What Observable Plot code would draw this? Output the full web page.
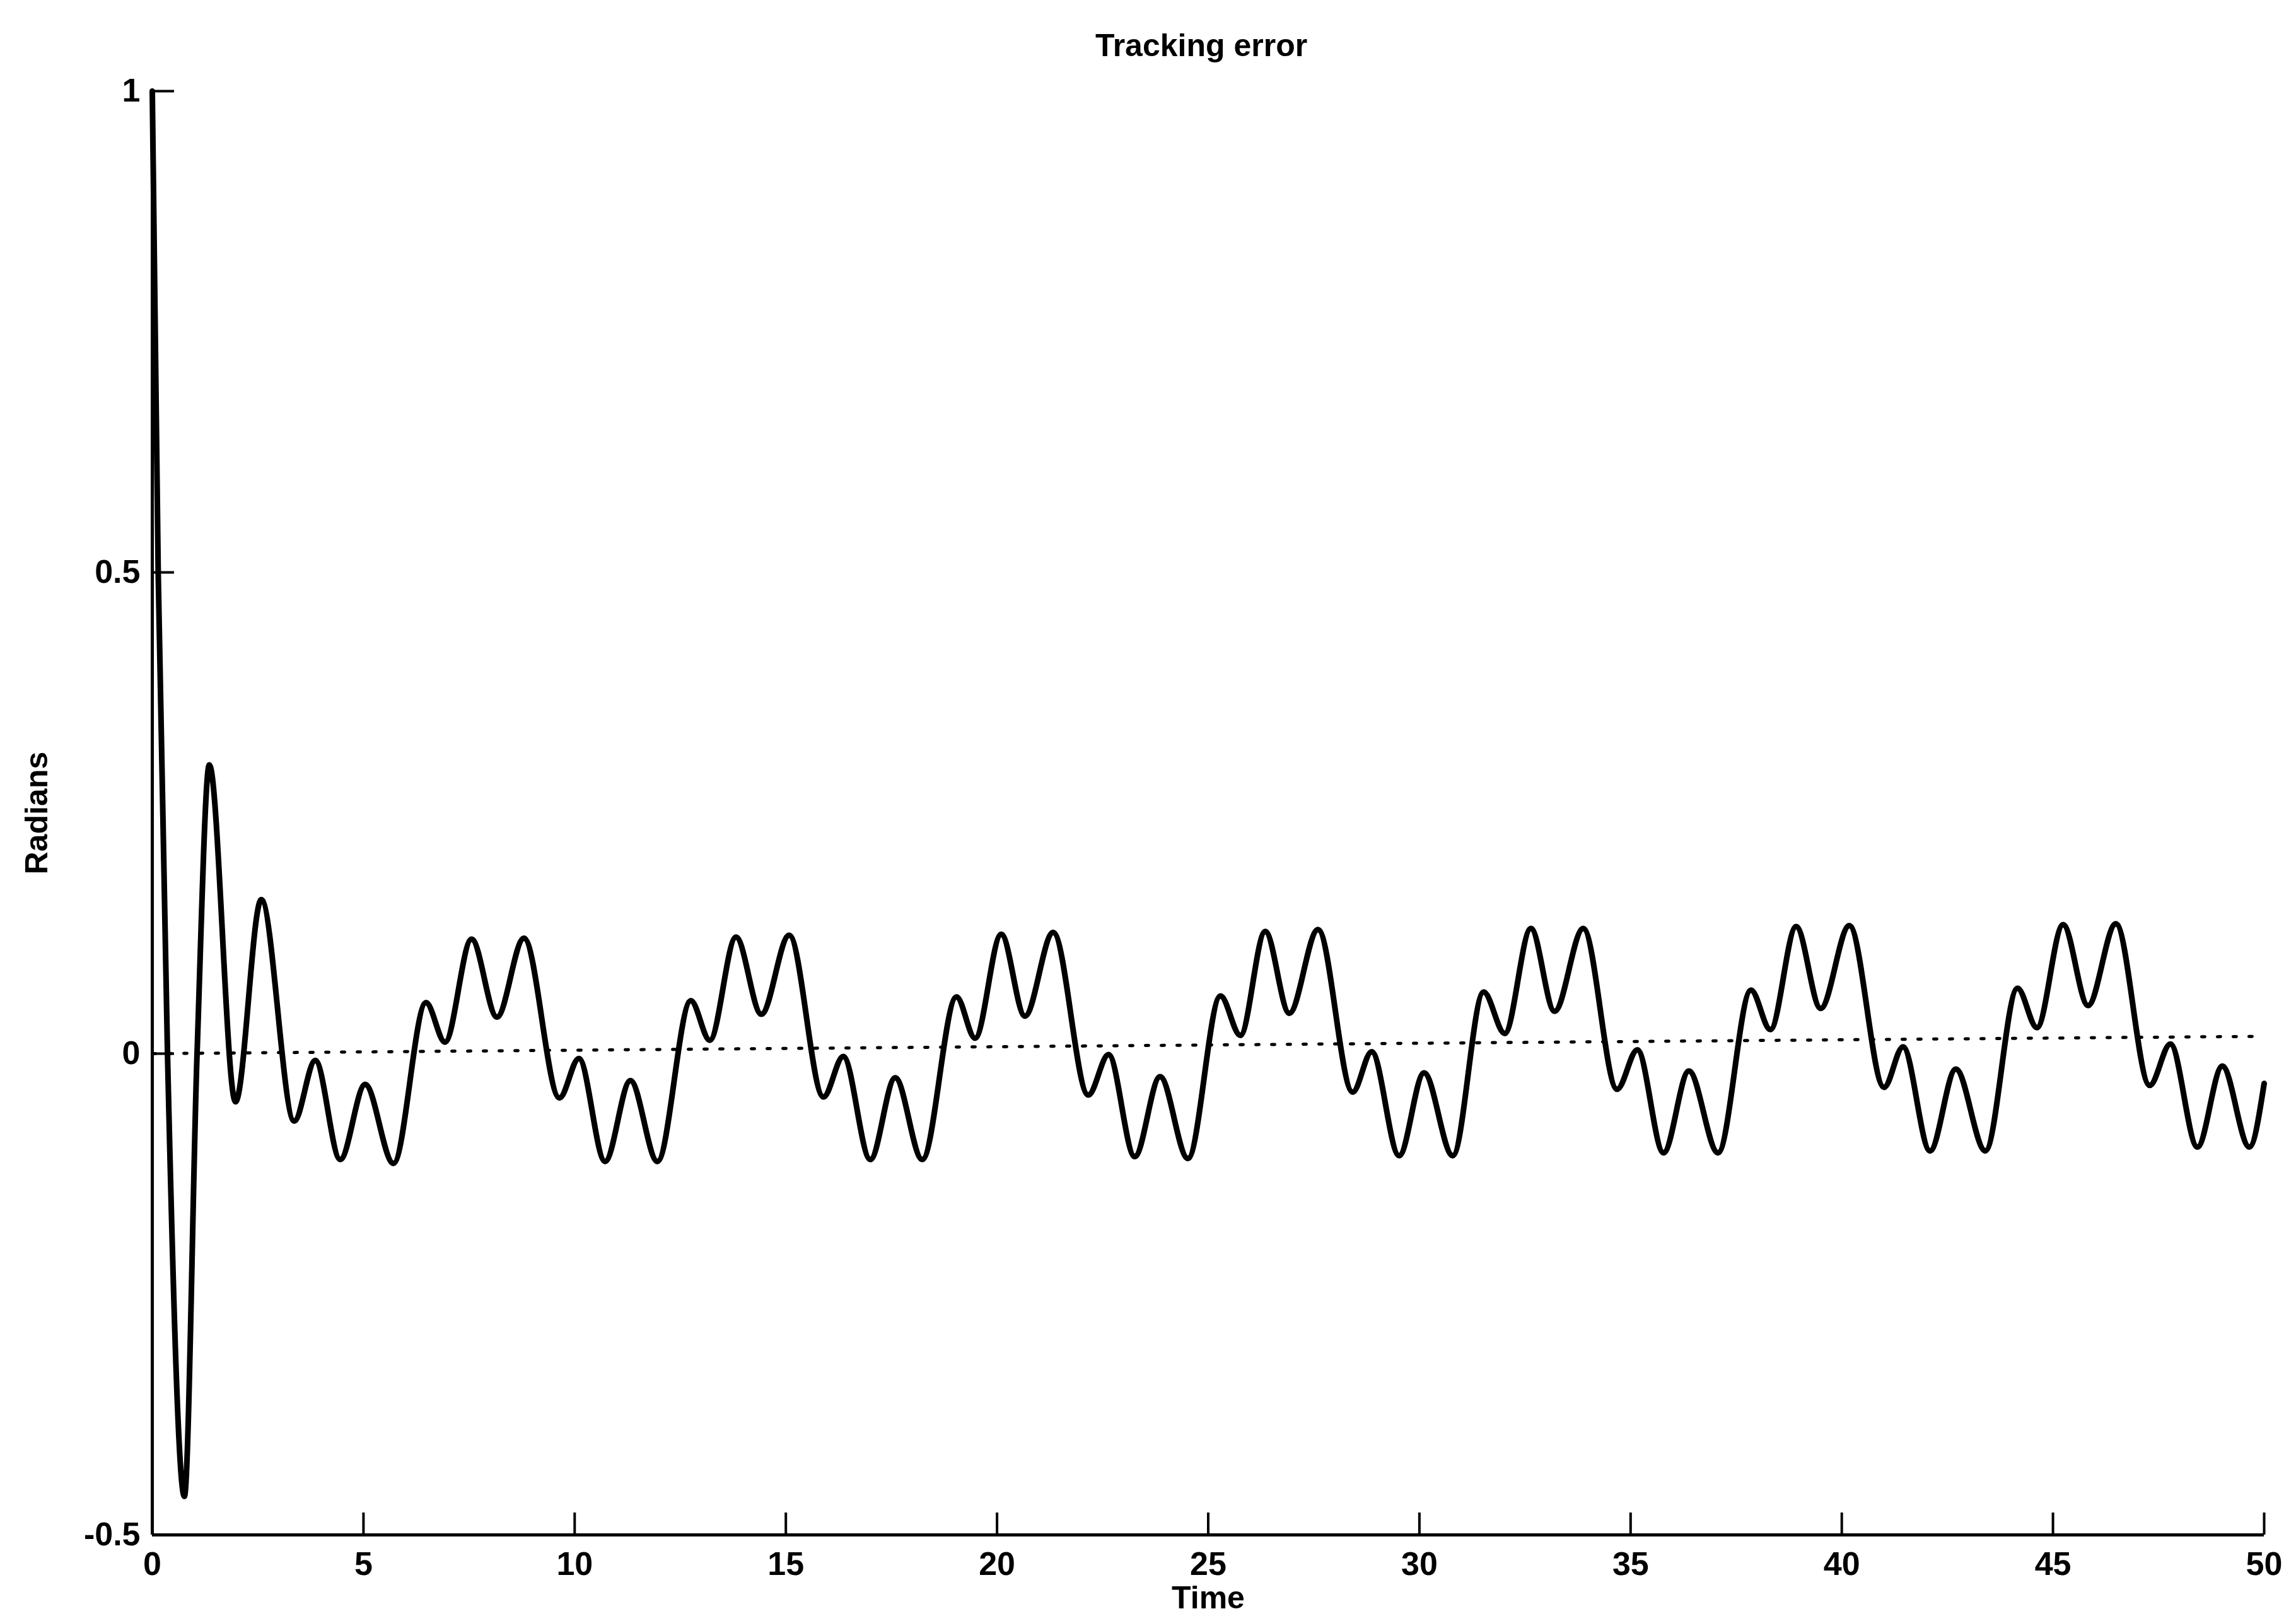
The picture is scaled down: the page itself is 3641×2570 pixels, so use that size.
<!DOCTYPE html>
<html>
<head>
<meta charset="utf-8">
<script src="https://cdn.jsdelivr.net/npm/d3@7"></script>
<script src="https://cdn.jsdelivr.net/npm/@observablehq/plot@0.6"></script>
<style>
  html, body { margin: 0; padding: 0; background: #ffffff; }
  #chart svg { display: block; }
</style>
</head>
<body>
<div id="chart"></div>
<script>
// ---- texts ----
const title = "Tracking error";
const xLabel = "Time";
const yLabel = "Radians";

// ---- ticks ----
const xTicks = [0, 5, 10, 15, 20, 25, 30, 35, 40, 45, 50];
const yTicks = [-0.5, 0, 0.5, 1];
const yTickLabels = ["-0.5", "0", "0.5", "1"];

// ---- tracking error curve (turning points) ----
const time = [
  0, 0.14, 0.36, 0.76, 1.06, 1.35, 1.97, 2.58, 3.36, 3.86, 4.45, 5.04, 5.71,
  6.48, 6.93, 7.56, 8.16, 8.8, 9.64, 10.1, 10.72, 11.32, 11.96,
  12.75, 13.2, 13.82, 14.42, 15.08, 15.89, 16.36, 17.0, 17.59, 18.23,
  19.04, 19.48, 20.1, 20.66, 21.33, 22.16, 22.64, 23.26, 23.86, 24.52,
  25.29, 25.76, 26.35, 26.92, 27.6, 28.42, 28.87, 29.52, 30.11, 30.79,
  31.52, 32.02, 32.64, 33.2, 33.88, 34.68, 35.16, 35.78, 36.38, 37.07,
  37.85, 38.31, 38.92, 39.5, 40.18, 41.0, 41.45, 42.09, 42.7, 43.4,
  44.16, 44.62, 45.24, 45.83, 46.49, 47.29, 47.78, 48.42, 49.01, 49.65, 50.0
];
const radians = [
  1.0, 0.5, 0.0, -0.46, 0.0, 0.30, -0.05, 0.16, -0.07, -0.007, -0.11, -0.032, -0.114,
  0.053, 0.012, 0.119, 0.038, 0.12, -0.046, -0.005, -0.112, -0.028, -0.112,
  0.055, 0.014, 0.121, 0.041, 0.123, -0.045, -0.003, -0.11, -0.025, -0.11,
  0.059, 0.016, 0.124, 0.039, 0.126, -0.043, -0.001, -0.107, -0.024, -0.109,
  0.060, 0.019, 0.127, 0.042, 0.129, -0.040, 0.002, -0.106, -0.020, -0.106,
  0.064, 0.021, 0.130, 0.044, 0.130, -0.037, 0.004, -0.103, -0.018, -0.103,
  0.066, 0.025, 0.132, 0.047, 0.133, -0.035, 0.007, -0.101, -0.016, -0.101,
  0.068, 0.027, 0.134, 0.050, 0.135, -0.033, 0.010, -0.097, -0.013, -0.097, -0.031
];

// ---- dotted reference line ----
const refTime = [0, 50];
const refValue = [0, 0.018];

// tables built from the arrays
const curveData = time.map((t, i) => ({t, v: radians[i]}));
const refData = refTime.map((t, i) => ({t, v: refValue[i]}));

const FONT = "'Liberation Sans', Arial, Helvetica, sans-serif";

const chart = Plot.plot({
  width: 3641,
  height: 2570,
  marginLeft: 241,
  marginRight: 51,
  marginTop: 144,
  marginBottom: 137,
  style: {fontFamily: FONT, fontSize: "52px", color: "#000", background: "#fff"},
  x: {domain: [0, 50]},
  y: {domain: [-0.5, 1]},
  marks: [
    // dotted reference
    Plot.line(refData, {x: "t", y: "v", stroke: "#000", strokeWidth: 5, strokeDasharray: "5,20"}),
    // main curve
    Plot.line(curveData, {x: "t", y: "v", curve: "monotone-x", stroke: "#000", strokeWidth: 9, strokeLinejoin: "round", strokeLinecap: "round"}),
    // axis lines (left and bottom only)
    Plot.ruleX([0], {stroke: "#000", strokeWidth: 5}),
    Plot.ruleY([-0.5], {stroke: "#000", strokeWidth: 5}),
    // axes with inward ticks
    Plot.axisX(xTicks, {
      anchor: "bottom", tickSize: -35, tickPadding: 62, strokeWidth: 4,
      fontSize: 52, fontWeight: "bold", label: null, tickFormat: d => String(d)
    }),
    Plot.axisY(yTicks, {
      anchor: "left", tickSize: -35, tickPadding: 54, strokeWidth: 4,
      fontSize: 52, fontWeight: "bold", label: null,
      tickFormat: d => yTickLabels[yTicks.indexOf(d)]
    }),
    // title and axis labels
    Plot.text([title], {text: d => d, frameAnchor: "top", lineAnchor: "middle", textAnchor: "middle", dx: -11, dy: -72, fontSize: 50, fontWeight: "bold"}),
    Plot.text([xLabel], {text: d => d, frameAnchor: "bottom", lineAnchor: "middle", textAnchor: "middle", dy: 100, fontSize: 50, fontWeight: "bold"}),
    Plot.text([yLabel], {text: d => d, frameAnchor: "left", lineAnchor: "middle", textAnchor: "middle", dx: -183, rotate: -90, fontSize: 50, fontWeight: "bold"})
  ]
});

document.getElementById("chart").appendChild(chart);
</script>
</body>
</html>
